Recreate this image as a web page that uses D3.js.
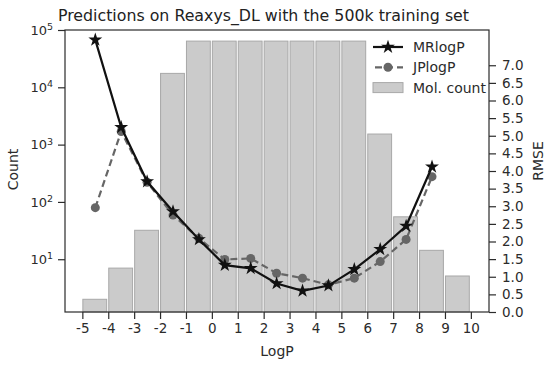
<html>
<head>
<script src="https://d3js.org/d3.v7.min.js"></script>
<style>
  body { margin: 0; background: #fff; }
  text { font-family: "DejaVu Sans", sans-serif; }
</style>
</head>
<body>
<div id="chart"></div>
<script>
// bins of LogP (left edge of each bar)
const binStarts = [-5, -4, -3, -2, -1, 0, 1, 2, 3, 4, 5, 6, 7, 8, 9];
const molCount = [2, 7, 32, 17500, 64000, 64000, 64000, 64000, 64000, 64000, 64000, 1530, 55, 14.3, 5.1];

// RMSE per bin centre
const binCentres = [-4.5, -3.5, -2.5, -1.5, -0.5, 0.5, 1.5, 2.5, 3.5, 4.5, 5.5, 6.5, 7.5, 8.5];
const mrlogp = [7.72, 5.24, 3.70, 2.85, 2.06, 1.33, 1.24, 0.81, 0.60, 0.75, 1.21, 1.78, 2.44, 4.12];
const jplogp = [2.96, 5.12, 3.68, 2.75, 2.09, 1.49, 1.52, 1.10, 0.96, 0.77, 0.96, 1.43, 2.06, 3.84];

const xTicks = [-5, -4, -3, -2, -1, 0, 1, 2, 3, 4, 5, 6, 7, 8, 9, 10];
const countTicks = [10, 100, 1000, 10000, 100000];
const rmseTicks = [0, 0.5, 1, 1.5, 2, 2.5, 3, 3.5, 4, 4.5, 5, 5.5, 6, 6.5, 7];

const width = 550, height = 367;
const margin = {top: 30, right: 61, bottom: 55, left: 65};

const svg = d3.create('svg')
  .attr('width', width)
  .attr('height', height);

const x = d3.scaleLinear()
  .domain([-5.67, 10.7])
  .range([margin.left, width - margin.right]);

const yCount = d3.scaleLog()
  .domain([1.2, 100000])
  .range([height - margin.bottom, margin.top]);

const yRmse = d3.scaleLinear()
  .domain([0, 8])
  .range([height - margin.bottom, margin.top]);

const ink = '#2b2b2b';

// bars
svg.append('g')
  .selectAll('rect')
  .data(binStarts)
  .join('rect')
    .attr('x', (d, i) => x(d) + 0.5)
    .attr('width', x(0.92) - x(0))
    .attr('y', (d, i) => yCount(molCount[i]))
    .attr('height', (d, i) => yCount.range()[0] - yCount(molCount[i]))
    .attr('fill', '#cbcbcb')
    .attr('stroke', '#a8a8a8')
    .attr('stroke-width', 1);

// lines
const line = d3.line()
  .x((d, i) => x(binCentres[i]))
  .y(d => yRmse(d));

svg.append('path')
  .datum(jplogp)
  .attr('d', line)
  .attr('fill', 'none')
  .attr('stroke', '#666')
  .attr('stroke-width', 2.2)
  .attr('stroke-dasharray', '7,4');

svg.append('g')
  .selectAll('circle')
  .data(jplogp)
  .join('circle')
    .attr('cx', (d, i) => x(binCentres[i]))
    .attr('cy', d => yRmse(d))
    .attr('r', 4.5)
    .attr('fill', '#666');

svg.append('path')
  .datum(mrlogp)
  .attr('d', line)
  .attr('fill', 'none')
  .attr('stroke', '#111')
  .attr('stroke-width', 2.2);

const star = d3.symbol().type(d3.symbolStar).size(60);
svg.append('g')
  .selectAll('path')
  .data(mrlogp)
  .join('path')
    .attr('transform', (d, i) => `translate(${x(binCentres[i])},${yRmse(d)})`)
    .attr('d', star)
    .attr('fill', '#111');

// frame
svg.append('rect')
  .attr('x', margin.left)
  .attr('y', margin.top)
  .attr('width', width - margin.right - margin.left)
  .attr('height', height - margin.bottom - margin.top)
  .attr('fill', 'none')
  .attr('stroke', ink)
  .attr('stroke-width', 1.2);

function styleAxis(g) {
  g.select('.domain').remove();
  g.selectAll('.tick line').attr('stroke', ink).attr('stroke-width', 1.2);
  g.selectAll('.tick text').attr('fill', ink).attr('font-size', 13.5)
    .attr('font-family', '"DejaVu Sans", sans-serif');
}

// x axis
svg.append('g')
  .attr('transform', `translate(0,${height - margin.bottom})`)
  .call(d3.axisBottom(x).tickValues(xTicks).tickFormat(d => String(d)).tickSize(7).tickPadding(4))
  .call(styleAxis);

// left log axis with superscripts
svg.append('g')
  .attr('transform', `translate(${margin.left},0)`)
  .call(d3.axisLeft(yCount).tickValues(countTicks).tickFormat('').tickSize(7).tickPadding(5))
  .call(styleAxis)
  .selectAll('.tick text')
  .attr('font-size', 13)
  .each(function(d) {
    const t = d3.select(this);
    t.append('tspan').text('10');
    t.append('tspan').attr('dy', '-0.5em').attr('font-size', 9.5).text(Math.round(Math.log10(d)));
  });

// right axis
svg.append('g')
  .attr('transform', `translate(${width - margin.right},0)`)
  .call(d3.axisRight(yRmse).tickValues(rmseTicks).tickFormat(d3.format('.1f')).tickSize(7).tickPadding(6))
  .call(styleAxis);

// labels
svg.append('text')
  .attr('x', 263.5)
  .attr('y', 21)
  .attr('text-anchor', 'middle')
  .attr('font-size', 15.8)
  .attr('fill', '#222')
  .text('Predictions on Reaxys_DL with the 500k training set');

svg.append('text')
  .attr('x', 277)
  .attr('y', 356)
  .attr('text-anchor', 'middle')
  .attr('font-size', 14)
  .attr('fill', ink)
  .text('LogP');

svg.append('text')
  .attr('transform', 'translate(17.5,169.5) rotate(-90)')
  .attr('text-anchor', 'middle')
  .attr('font-size', 14)
  .attr('fill', ink)
  .text('Count');

svg.append('text')
  .attr('transform', 'translate(543,161) rotate(-90)')
  .attr('text-anchor', 'middle')
  .attr('font-size', 14)
  .attr('fill', ink)
  .text('RMSE');

// legend
const legend = svg.append('g').attr('transform', 'translate(373,47)');
const items = ['MRlogP', 'JPlogP', 'Mol. count'];
items.forEach((name, i) => {
  const g = legend.append('g').attr('transform', `translate(0,${i * 20.3})`);
  if (i === 0) {
    g.append('line').attr('x1', 0).attr('x2', 30).attr('stroke', '#111').attr('stroke-width', 2.2);
    g.append('path').attr('transform', 'translate(15,0)').attr('d', star).attr('fill', '#111');
  } else if (i === 1) {
    g.append('line').attr('x1', 0).attr('x2', 30).attr('stroke', '#666').attr('stroke-width', 2.2)
      .attr('stroke-dasharray', '7,4').attr('stroke-dashoffset', -2);
    g.append('circle').attr('cx', 15).attr('r', 4.5).attr('fill', '#666');
  } else {
    g.append('rect').attr('x', 0).attr('y', -5).attr('width', 30).attr('height', 10)
      .attr('fill', '#cbcbcb').attr('stroke', '#a8a8a8');
  }
  g.append('text').attr('x', 40).attr('y', 5).attr('font-size', 14).attr('fill', ink).text(name);
});

document.getElementById('chart').appendChild(svg.node());
</script>
</body>
</html>
